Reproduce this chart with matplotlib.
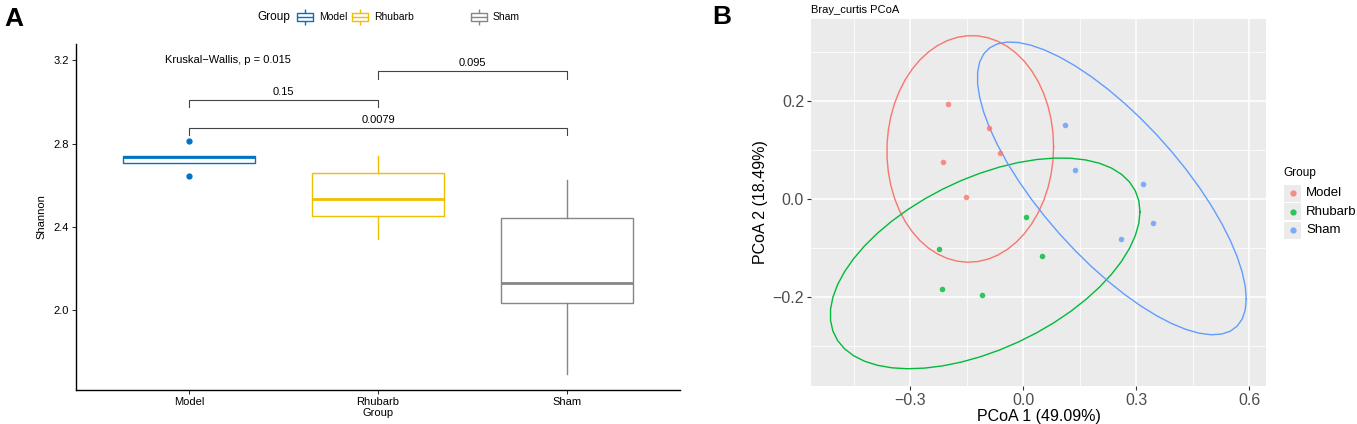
import numpy as np
import matplotlib
matplotlib.use('Agg')
import matplotlib.pyplot as plt
from matplotlib.path import Path
from matplotlib.lines import Line2D
from matplotlib.patches import Rectangle

plt.rcParams['font.family'] = ['Liberation Sans', 'DejaVu Sans']

# ---- data: panel A (Shannon boxplots) ----
groups = ['Model', 'Rhubarb', 'Sham']
box_colors = ['#0073C2', '#EFC000', '#868686']
q1 = [2.710, 2.452, 2.035]
med = [2.736, 2.537, 2.130]
q3 = [2.740, 2.662, 2.445]
whis_lo = [2.710, 2.345, 1.695]
whis_hi = [2.740, 2.743, 2.625]
fliers = [[2.812, 2.645], [], []]
# pairwise comparisons (group i, group j, bracket height, p label)
comp_pairs = [(1, 2), (2, 3), (1, 3)]
comp_y = [3.011, 3.148, 2.876]
comp_p = ['0.15', '0.095', '0.0079']
kw_text = 'Kruskal\u2212Wallis, p = 0.015'

# ---- data: panel B (Bray-Curtis PCoA) ----
pc1 = {
    'Model': [-0.198, -0.091, -0.062, -0.213, -0.152],
    'Rhubarb': [0.007, -0.223, 0.049, -0.214, -0.110],
    'Sham': [0.111, 0.137, 0.319, 0.346, 0.259],
}
pc2 = {
    'Model': [0.195, 0.146, 0.095, 0.076, 0.004],
    'Rhubarb': [-0.037, -0.101, -0.115, -0.184, -0.195],
    'Sham': [0.152, 0.060, 0.031, -0.048, -0.082],
}
pcoa_colors = {'Model': '#F8766D', 'Rhubarb': '#00BA38', 'Sham': '#619CFF'}


def cov_trob(x, nu=5, maxit=25, tol=0.01):
    # port of MASS::cov.trob as used by ggplot2 stat_ellipse
    n, p = x.shape
    loc = x.mean(axis=0)
    w = np.ones(n)
    for _ in range(maxit):
        w0 = w
        X = x - loc
        _, d, vt = np.linalg.svd(np.sqrt(w / w.sum())[:, None] * X, full_matrices=False)
        wX = X @ vt.T @ np.diag(1 / d)
        Q = (wX ** 2).sum(axis=1)
        w = (nu + p) / (nu + Q)
        loc = (w[:, None] * x).sum(axis=0) / w.sum()
        if np.all(np.abs(w - w0) < tol):
            break
    X = x - loc
    cov = (np.sqrt(w)[:, None] * X).T @ (np.sqrt(w)[:, None] * X) / n
    return loc, cov


def ellipse_pts(xs, ys, level=0.95, segments=51):
    pts = np.column_stack([xs, ys])
    center, shape = cov_trob(pts)
    dfd = len(xs) - 1
    fq = dfd / 2 * ((1 - level) ** (-2 / dfd) - 1)  # qf(level, 2, dfd)
    radius = np.sqrt(2 * fq)
    ang = np.linspace(0, 2 * np.pi, segments + 1)
    circ = np.column_stack([np.cos(ang), np.sin(ang)])
    chol = np.linalg.cholesky(shape).T
    e = center + radius * circ @ chol
    return e[:, 0], e[:, 1]


W, H = 1357, 424
fig = plt.figure(figsize=(W / 100, H / 100), dpi=100)


def fx(px):
    return px / W


def fy(py):
    return 1 - py / H


# ================= Panel A =================
axA = fig.add_axes([fx(76), fy(390), fx(680) - fx(76), fy(44) - fy(390)])
stats = []
for i, g in enumerate(groups):
    stats.append(dict(med=med[i], q1=q1[i], q3=q3[i], whislo=whis_lo[i],
                      whishi=whis_hi[i], fliers=fliers[i], label=g))
pos = np.arange(1, len(groups) + 1)
bp = axA.bxp(stats, positions=pos, widths=0.7, patch_artist=True, showcaps=False,
             manage_ticks=False)
for i, c in enumerate(box_colors):
    bp['boxes'][i].set(facecolor='white', edgecolor=c, linewidth=1.0)
    bp['medians'][i].set(color=c, linewidth=2.0)
    bp['whiskers'][2 * i].set(color=c, linewidth=1.0)
    bp['whiskers'][2 * i + 1].set(color=c, linewidth=1.0)
    bp['fliers'][i].set(marker='o', markerfacecolor=c, markeredgecolor=c,
                        markersize=3.5)

for (a, b), yv, lab in zip(comp_pairs, comp_y, comp_p):
    tip = 0.036
    axA.plot([a, a, b, b], [yv - tip, yv, yv, yv - tip], color='#444444', lw=0.8)
    axA.text((a + b) / 2, yv + 0.015, lab, ha='center', va='bottom', fontsize=8)
axA.text(0.87, 3.2, kw_text, ha='left', va='center', fontsize=8)

axA.set_xlim(0.4, 3.6)
axA.set_ylim(1.618, 3.279)
axA.set_yticks([2.0, 2.4, 2.8, 3.2])
axA.set_yticklabels(['2.0', '2.4', '2.8', '3.2'])
axA.set_xticks(pos)
axA.set_xticklabels(groups)
axA.tick_params(labelsize=8, length=3, width=0.6, colors='black', pad=2)
axA.spines['top'].set_visible(False)
axA.spines['right'].set_visible(False)
axA.spines['left'].set_linewidth(1.0)
axA.spines['bottom'].set_linewidth(1.0)
axA.set_xlabel('Group', fontsize=8, labelpad=1)
axA.set_ylabel('Shannon', fontsize=8, labelpad=5)

# legend on top of panel A: little boxplot glyphs
box_icon = Path([(-1, -0.55), (1, -0.55), (1, 0.55), (-1, 0.55), (-1, -0.55),
                 (-1, 0), (1, 0), (0, 0.55), (0, 1), (0, -0.55), (0, -1)],
                [Path.MOVETO, Path.LINETO, Path.LINETO, Path.LINETO, Path.CLOSEPOLY,
                 Path.MOVETO, Path.LINETO, Path.MOVETO, Path.LINETO, Path.MOVETO,
                 Path.LINETO])
fig.text(fx(257), fy(17), 'Group', fontsize=8.5, ha='left', va='center')
key_x = [305, 360, 479]
for g, c, kx in zip(groups, box_colors, key_x):
    fig.add_artist(Line2D([fx(kx)], [fy(17)], marker=box_icon, markersize=11,
                          markerfacecolor='none', markeredgecolor=c,
                          markeredgewidth=1.0, linestyle='none'))
    fig.text(fx(kx + 14), fy(17), g, fontsize=7.5, ha='left', va='center')

fig.text(fx(4), fy(19), 'A', fontsize=19, fontweight='bold', ha='left', va='center')

# ================= Panel B =================
axB = fig.add_axes([fx(811), fy(386), fx(1266) - fx(811), fy(19) - fy(386)])
axB.set_facecolor('#EBEBEB')
for s in axB.spines.values():
    s.set_visible(False)
for g in groups:
    ex, ey = ellipse_pts(np.array(pc1[g]), np.array(pc2[g]))
    axB.plot(ex, ey, color=pcoa_colors[g], lw=1.0, zorder=3)
    axB.scatter(pc1[g], pc2[g], s=16, color=pcoa_colors[g], alpha=0.8,
                linewidths=0, zorder=4)

axB.set_xlim(-0.563, 0.645)
axB.set_ylim(-0.381, 0.368)
axB.set_xticks([-0.3, 0.0, 0.3, 0.6])
axB.set_yticks([-0.2, 0.0, 0.2])
axB.set_xticks([-0.45, -0.15, 0.15, 0.45], minor=True)
axB.set_yticks([-0.3, -0.1, 0.1, 0.3], minor=True)
axB.set_xticklabels(['\u22120.3', '0.0', '0.3', '0.6'])
axB.set_yticklabels(['\u22120.2', '0.0', '0.2'])
axB.grid(which='major', color='white', lw=1.1)
axB.grid(which='minor', color='white', lw=0.55)
axB.set_axisbelow(True)
axB.tick_params(which='major', labelsize=11.5, length=3, width=0.8, color='#333333',
                labelcolor='#4D4D4D', pad=2)
axB.tick_params(which='minor', length=0)
axB.set_xlabel('PCoA 1 (49.09%)', fontsize=11.5, labelpad=1)
axB.set_ylabel('PCoA 2 (18.49%)', fontsize=11.5, labelpad=3)
axB.text(0, 1.012, 'Bray_curtis PCoA', transform=axB.transAxes, fontsize=8,
         ha='left', va='bottom')

# legend of panel B: grey key squares with a dot, ggplot style
fig.text(fx(1283), fy(173), 'Group', fontsize=8.5, ha='left', va='center')
key_size = 17
for k, g in enumerate(groups):
    ky = 193 + k * 18.5
    fig.add_artist(Rectangle((fx(1284), fy(ky + key_size / 2)), fx(key_size),
                             fy(0) - fy(key_size), facecolor='#EBEBEB',
                             edgecolor='none', transform=fig.transFigure))
    fig.add_artist(Line2D([fx(1292.5)], [fy(ky)], marker='o', markersize=4.5,
                          markerfacecolor=pcoa_colors[g], markeredgecolor='none',
                          alpha=0.8, linestyle='none'))
    fig.text(fx(1306), fy(ky), g, fontsize=9.5, ha='left', va='center')

fig.text(fx(712), fy(17), 'B', fontsize=19, fontweight='bold', ha='left', va='center')

fig.savefig('out.png', dpi=100)
